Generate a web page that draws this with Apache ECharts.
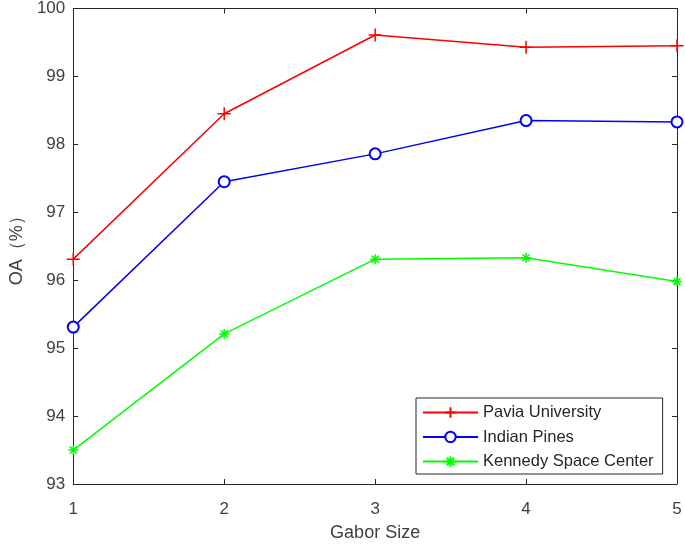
<!DOCTYPE html>
<html>
<head>
<meta charset="utf-8">
<script src="https://cdn.jsdelivr.net/npm/echarts@6/dist/echarts.min.js"></script>
<style>html,body{margin:0;padding:0;background:#fff}#c{width:685px;height:547px}</style>
</head>
<body>
<div id="c"></div>
<script>
const gaborSizes = [1, 2, 3, 4, 5];
const paviaUniversity = [96.31, 98.45, 99.61, 99.43, 99.45];
const indianPines = [95.31, 97.45, 97.86, 98.35, 98.33];
const kennedySpaceCenter = [93.50, 95.21, 96.31, 96.33, 95.98];
const seriesNames = ['Pavia University', 'Indian Pines', 'Kennedy Space Center'];
const yTicks = [93, 94, 95, 96, 97, 98, 99, 100];

const FONT = '"Liberation Sans", Arial, sans-serif';
const AX = '#262626';
const pair = arr => gaborSizes.map((x, i) => [x, arr[i]]);

const plusPath = 'path://M0,-10L0,10M-10,0L10,0';
const starPath = 'path://M0,-10L0,10M-10,0L10,0M-7.07,-7.07L7.07,7.07M-7.07,7.07L7.07,-7.07';

const chart = echarts.init(document.getElementById('c'), null, {renderer: 'canvas'});
const axisCommon = {
  type: 'value',
  axisLine: {show: true, lineStyle: {color: AX, width: 1}},
  axisTick: {show: true, inside: true, length: 5, lineStyle: {color: AX}},
  splitLine: {show: false}
};
chart.setOption({
  backgroundColor: '#fff',
  animation: false,
  textStyle: {fontFamily: FONT},
  grid: {left: 69, right: 8, top: 6, bottom: 59, containLabel: false},
  xAxis: [
    Object.assign({}, axisCommon, {
      min: 1, max: 5, interval: 1, position: 'bottom',
      name: 'Gabor Size', nameLocation: 'middle', nameGap: 40,
      nameTextStyle: {fontSize: 18, color: '#404040', fontFamily: FONT},
      axisLabel: {fontSize: 17, color: '#404040', margin: 17, fontFamily: FONT}
    }),
    Object.assign({}, axisCommon, {
      min: 1, max: 5, interval: 1, position: 'top',
      axisLabel: {show: false}
    })
  ],
  yAxis: [
    Object.assign({}, axisCommon, {
      min: yTicks[0], max: yTicks[yTicks.length - 1], interval: 1, position: 'left',
      name: 'OA（%）', nameLocation: 'middle', nameGap: 45, nameRotate: 90,
      nameTextStyle: {fontSize: 18, color: '#404040', fontFamily: FONT},
      axisLabel: {fontSize: 17, color: '#404040', margin: 8, fontFamily: FONT}
    }),
    Object.assign({}, axisCommon, {
      min: yTicks[0], max: yTicks[yTicks.length - 1], interval: 1, position: 'right',
      axisLabel: {show: false}
    })
  ],
  legend: {
    left: 416, top: 398,
    orient: 'vertical',
    backgroundColor: '#fff',
    borderColor: AX, borderWidth: 1,
    padding: [6, 9, 4, 6],
    itemWidth: 55, itemHeight: 13, itemGap: 7.5,
    textStyle: {fontSize: 16.5, color: '#262626', fontFamily: FONT},
    data: seriesNames
  },
  series: [
    {
      name: seriesNames[0], type: 'line', data: pair(paviaUniversity),
      symbol: plusPath, symbolSize: 13,
      lineStyle: {color: '#ff0000', width: 1.5},
      itemStyle: {color: '#ff0000', borderColor: '#ff0000', borderWidth: 1.5}
    },
    {
      name: seriesNames[1], type: 'line', data: pair(indianPines),
      symbol: 'emptyCircle', symbolSize: 11,
      lineStyle: {color: '#0000ff', width: 1.5},
      itemStyle: {color: '#0000ff', borderColor: '#0000ff', borderWidth: 1.5}
    },
    {
      name: seriesNames[2], type: 'line', data: pair(kennedySpaceCenter),
      symbol: starPath, symbolSize: 10,
      lineStyle: {color: '#00ff00', width: 1.5},
      itemStyle: {color: '#00ff00', borderColor: '#00ff00', borderWidth: 1.5}
    }
  ]
});
</script>
</body>
</html>
